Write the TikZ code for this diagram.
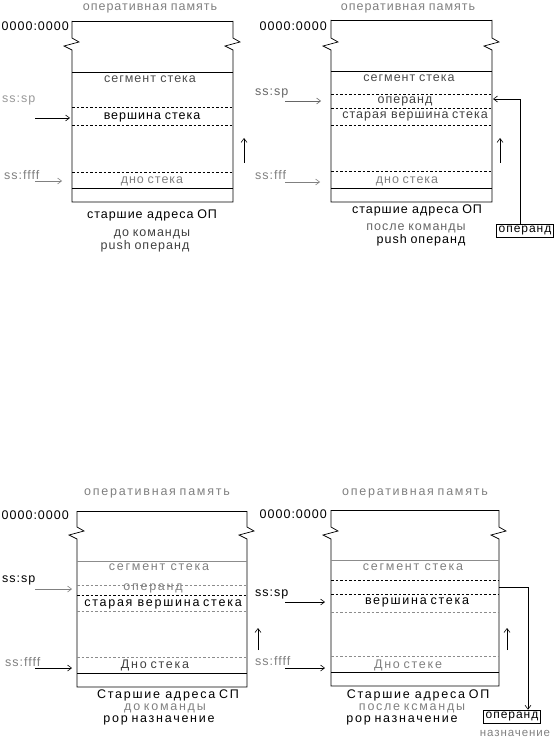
\documentclass[tikz,border=0pt]{standalone}
\usepackage{fontspec}
\setmainfont{Liberation Sans}
\newfontfamily\tfn[LetterSpace=8]{Liberation Sans}
\newfontfamily\tfw[LetterSpace=14]{Liberation Sans}
\usetikzlibrary{arrows.meta}
\newcommand\wsp{\hspace{0.3em}}
\newcommand\memcol[5]{%
  \draw[line] (#1,#3) -- (#2,#3);
  \draw[line] (#1,#3) -- (#1,#5) -- ({#1+7},{#5+4}) -- ({#1-8},{#5+8}) -- ({#1},{#5+12}) -- (#1,#4) -- (#2,#4) -- (#2,{#5+12}) -- ({#2-8},{#5+8}) -- ({#2+7},{#5+4}) -- (#2,#5) -- (#2,#3);
}
\begin{document}
\begin{tikzpicture}[x=1pt,y=-1pt,
  line/.style={draw=black,line width=0.7pt},
  gline/.style={draw=black!45,line width=0.7pt},
  dsh/.style={draw=black,line width=0.6pt,dash pattern=on 2.5pt off 2pt},
  gdsh/.style={draw=black!45,line width=0.6pt,dash pattern=on 2.5pt off 2pt},
  arr/.style={line width=0.6pt,-{Straight Barb[length=4pt,width=6pt]}},
  t/.style={inner sep=0pt,font=\tfn\fontsize{12.5}{12.5}\selectfont},
  tw/.style={inner sep=0pt,font=\tfw\fontsize{12.5}{12.5}\selectfont},
  gr/.style={text=black!50},
  opbox/.style={draw=black,line width=0.7pt,inner xsep=2pt,inner ysep=2pt,font=\tfn\fontsize{12}{12}\selectfont}
]
\useasboundingbox (0,0) rectangle (556,738);

% ================= Diagram 1 =================
\node[t,gr] (a-title) at (150,8) {оперативная\wsp память};
\node[t,anchor=east] (a-addr) at (69,26) {0000:0000};
\memcol{72}{233}{21}{202}{38}
\draw[line] (72,72) -- (233,72);
\node[t,text=black!70] (a-seg) at (150,79) {сегмент стека};
\draw[dsh] (72,107) -- (233,107);
\node[t,text=black!40,anchor=west] (a-sp) at (2,100) {ss:sp};
\coordinate (a-sp-s) at (35,118);
\coordinate (a-sp-e) at (70,118);
\draw[arr] (a-sp-s) -- (a-sp-e);
\node[t] (a-top) at (152,117) {вершина\wsp стека};
\draw[dsh] (72,125) -- (233,125);
\coordinate (a-up-s) at (244,163);
\coordinate (a-up-e) at (244,138);
\draw[arr] (a-up-s) -- (a-up-e);
\draw[dsh] (72,172) -- (233,172);
\node[t,gr,anchor=west] (a-ff) at (4,175) {ss:ffff};
\coordinate (a-ff-s) at (35,181);
\coordinate (a-ff-e) at (62,181);
\draw[arr,draw=black!50] (a-ff-s) -- (a-ff-e);
\node[t,gr] (a-bot) at (152,181) {дно\wsp стека};
\draw[line] (72,188) -- (233,188);
\node[t] (a-hi) at (152,215) {старшие адреса\wsp ОП};
\node[t,text=black!75] (a-c1) at (152,234) {до\wsp команды};
\node[t,text=black!75] (a-c2) at (145,246) {push\wsp операнд};

% ================= Diagram 2 =================
\node[t,gr] (b-title) at (408,8) {оперативная\wsp память};
\node[t,anchor=east] (b-addr) at (327,26) {0000:0000};
\memcol{331}{492}{20}{202}{38}
\draw[line] (331,71) -- (492,71);
\node[t,text=black!70] (b-seg) at (409,78) {сегмент\wsp стека};
\draw[dsh] (331,94) -- (492,94);
\node[t,text=black!60,anchor=west] (b-sp) at (255,93) {ss:sp};
\coordinate (b-sp-s) at (285,101);
\coordinate (b-sp-e) at (321,101);
\draw[arr,draw=black!60] (b-sp-s) -- (b-sp-e);
\node[t,text=black!75] (b-op) at (405,101) {операнд};
\draw[dsh] (331,108) -- (492,108);
\node[t,text=black!75] (b-old) at (415,116) {старая вершина\wsp стека};
\draw[dsh] (331,125) -- (492,125);
\coordinate (b-up-s) at (500,163);
\coordinate (b-up-e) at (500,138);
\draw[arr] (b-up-s) -- (b-up-e);
\draw[dsh] (331,171) -- (492,171);
\node[t,gr,anchor=west] (b-ff) at (255,175) {ss:fff};
\coordinate (b-ff-s) at (285,182);
\coordinate (b-ff-e) at (320,182);
\draw[arr,draw=black!50] (b-ff-s) -- (b-ff-e);
\node[t,gr] (b-bot) at (407,181) {дно\wsp стека};
\draw[line] (331,188) -- (492,188);
\node[t] (b-hi) at (417,210) {старшие адреса\wsp ОП};
\node[t,text=black!60] (b-c1) at (416,228) {после\wsp команды};
\node[t] (b-c2) at (421,240) {push\wsp операнд};
\node[opbox] (b-box) at (525,230.5) {операнд};
\coordinate (b-in) at (493,99);
\draw[arr] (b-box.north -| 520,0) |- (b-in);

% ================= Diagram 3 =================
\node[tw,gr] (c-title) at (157,493) {оперативная\wsp память};
\node[t,anchor=east] (c-addr) at (69,515) {0000:0000};
\memcol{77}{247}{511}{687}{527}
\draw[gline] (77,561) -- (247,561);
\node[tw,gr] (c-seg) at (159,567) {сегмент стека};
\draw[gdsh] (77,585) -- (247,585);
\node[t,anchor=west] (c-sp) at (2,580) {ss:sp};
\coordinate (c-sp-s) at (35,589);
\coordinate (c-sp-e) at (72,589);
\draw[arr,draw=black!50] (c-sp-s) -- (c-sp-e);
\node[tw,gr] (c-op) at (153,588) {операнд};
\draw[dsh] (77,595) -- (247,595);
\node[tw] (c-old) at (163,604) {старая вершина\wsp стека};
\draw[gdsh] (77,611) -- (247,611);
\coordinate (c-up-s) at (258,650);
\coordinate (c-up-e) at (258,628);
\draw[arr] (c-up-s) -- (c-up-e);
\draw[gdsh] (77,657) -- (247,657);
\node[t,gr,anchor=west] (c-ff) at (5,662) {ss:ffff};
\coordinate (c-ff-s) at (35,668);
\coordinate (c-ff-e) at (72,668);
\draw[arr] (c-ff-s) -- (c-ff-e);
\node[tw,text=black!75] (c-bot) at (155,665) {Дно\wsp стека};
\draw[line] (77,673) -- (247,673);
\node[tw] (c-hi) at (168,695) {Старшие адреса\wsp СП};
\node[tw,gr] (c-c1) at (165,708.5) {до\wsp команды};
\node[tw] (c-c2) at (159,720.5) {pop\wsp назначение};

% ================= Diagram 4 =================
\node[tw,gr] (d-title) at (415,493) {оперативная\wsp память};
\node[t,anchor=east] (d-addr) at (327,514) {0000:0000};
\memcol{331}{499}{510}{686}{527}
\draw[gline] (331,560) -- (499,560);
\node[tw,gr] (d-seg) at (413,567) {сегмент стека};
\draw[dsh] (331,580) -- (499,580);
\draw[dsh] (331,594) -- (499,594);
\node[t,anchor=west] (d-sp) at (255,594) {ss:sp};
\coordinate (d-sp-s) at (285,602);
\coordinate (d-sp-e) at (325,602);
\draw[arr] (d-sp-s) -- (d-sp-e);
\node[tw] (d-top) at (417,602) {вершина\wsp стека};
\draw[gdsh] (331,612) -- (499,612);
\coordinate (d-up-s) at (507,650);
\coordinate (d-up-e) at (507,628);
\draw[arr] (d-up-s) -- (d-up-e);
\draw[gdsh] (331,656) -- (499,656);
\node[t,gr,anchor=west] (d-ff) at (255,661) {ss:ffff};
\coordinate (d-ff-s) at (285,668);
\coordinate (d-ff-e) at (325,668);
\draw[arr] (d-ff-s) -- (d-ff-e);
\node[tw,gr] (d-bot) at (408,665) {Дно\wsp стеке};
\draw[line] (331,672) -- (499,672);
\node[tw] (d-hi) at (418,695) {Старшие адреса\wsp ОП};
\node[tw,gr] (d-c1) at (412,708.5) {после\wsp ксманды};
\node[tw] (d-c2) at (402,720.5) {pop\wsp назначение};
\node[opbox] (d-box) at (512,716.5) {операнд};
\node[t,gr,font=\tfn\fontsize{11.5}{11.5}\selectfont] (d-dst) at (515,733) {назначение};
\coordinate (d-out) at (499,587);
\draw[arr] (d-out) -| (d-box.north -| 528,0);
\end{tikzpicture}
\end{document}
